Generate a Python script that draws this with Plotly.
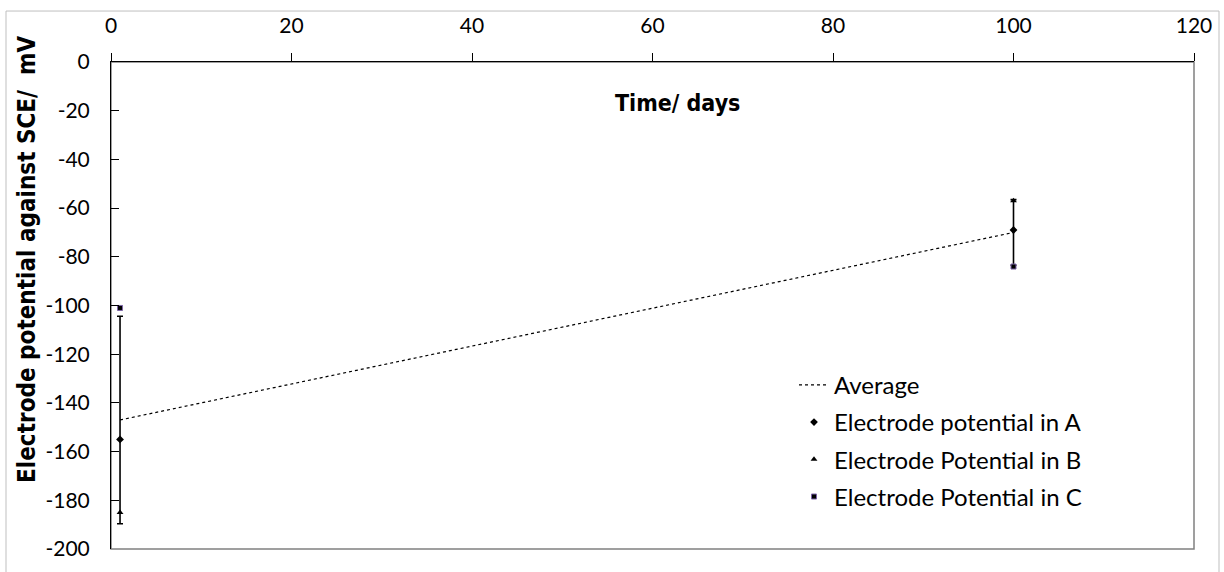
import plotly.graph_objects as go

# Data
days = [1, 100]
avg_potential = [-147, -70]
avg_error = [42.6, 13.5]
pot_a = [-155, -69]
pot_b = [-185, -57]
pot_c = [-101, -84]

x_ticks = [0, 20, 40, 60, 80, 100, 120]
y_ticks = [0, -20, -40, -60, -80, -100, -120, -140, -160, -180, -200]
y_tick_text = ["0", "-20", "-40", "-60", "-80", "-100", "-120", "-140", "-160", "-180", "-200"]

tick_font = dict(family="Lato, Carlito, Calibri, sans-serif", size=21, color="#000000")
title_font = dict(family="Liberation Sans Narrow, DejaVu Sans Condensed, Arial Narrow, sans-serif",
                  size=23, color="#000000")

fig = go.Figure()

fig.add_trace(go.Scatter(
    x=days, y=avg_potential, mode="lines", name="Average",
    line=dict(color="#000000", width=1.2, dash="dot"),
    error_y=dict(type="data", array=avg_error, symmetric=True,
                 color="#000000", thickness=1.6, width=3),
    legendgroup="g1",
))
fig.add_trace(go.Scatter(
    x=days, y=pot_a, mode="markers", name="Electrode potential in A",
    marker=dict(symbol="diamond", size=6, color="#000000"),
    legendgroup="g2",
))
fig.add_trace(go.Scatter(
    x=days, y=pot_b, mode="markers", name="Electrode Potential in B",
    marker=dict(symbol="triangle-up", size=6, color="#000000"),
    legendgroup="g3",
))
fig.add_trace(go.Scatter(
    x=days, y=pot_c, mode="markers", name="Electrode Potential in C",
    marker=dict(symbol="square", size=5, color="#000000",
                line=dict(color="#7d65a8", width=1)),
    legendgroup="g4",
))

PW = 1224 - 111 - 30
PH = 572 - 60 - 15

fig.update_layout(
    width=1224, height=572,
    margin=dict(l=111, r=30, t=60, b=15),
    paper_bgcolor="#ffffff", plot_bgcolor="#ffffff",
    showlegend=True,
    legend=dict(x=(794 - 111) / PW, y=1 - (367 - 60) / PH, xanchor="left", yanchor="top",
                font=dict(family="Lato, Carlito, Calibri, sans-serif", size=24, color="#000000"),
                bgcolor="rgba(0,0,0,0)", borderwidth=0,
                tracegroupgap=3, traceorder="grouped", itemwidth=30),
    xaxis=dict(range=[0, 120], side="top", tickvals=x_ticks,
               showgrid=False, zeroline=False,
               showline=True, linecolor="#000000", linewidth=1,
               ticks="outside", ticklen=8, tickcolor="#000000",
               ticklabelstandoff=12,
               tickfont=tick_font),
    yaxis=dict(range=[-200, 0], tickvals=y_ticks, ticktext=y_tick_text,
               showgrid=False, zeroline=False,
               showline=True, linecolor="#000000", linewidth=1,
               ticks="inside", ticklen=8, tickcolor="#000000",
               ticklabelstandoff=16,
               tickfont=tick_font),
    shapes=[
        dict(type="rect", xref="paper", yref="paper", x0=0, y0=0, x1=1, y1=1,
             line=dict(color="#808080", width=1.5), layer="below"),
        dict(type="rect", xref="paper", yref="paper",
             x0=-105 / PW, y0=-30 / PH, x1=1 + 25 / PW, y1=1 + 52 / PH,
             line=dict(color="#bfbfbf", width=1), layer="below"),
    ],
    annotations=[
        dict(text="<b>Time/ days</b>", x=62.8, y=-17, xref="x", yref="y",
             showarrow=False, font=title_font),
        dict(text="<b>Electrode potential against SCE/  mV</b>", textangle=-90,
             x=-84 / PW, y=1 - (262 - 60) / PH, xref="paper", yref="paper",
             xanchor="center", yanchor="middle",
             showarrow=False, font=dict(title_font, size=24)),
    ],
)

fig.write_html("out.html")
